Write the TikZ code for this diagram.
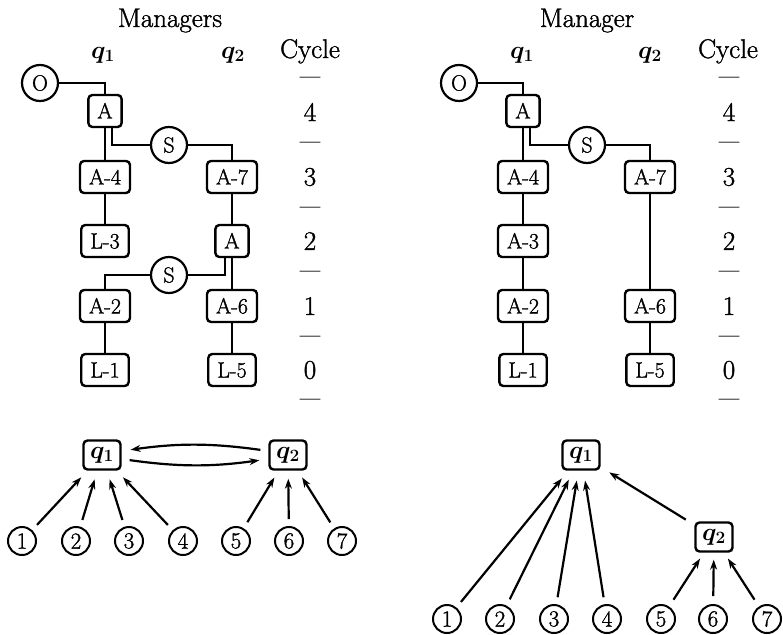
\documentclass[tikz,border=0pt]{standalone}
\usepackage{fontspec}
\setmainfont{Latin Modern Roman}[FakeBold=1.3]
\usetikzlibrary{arrows.meta}
\begin{document}
\begin{tikzpicture}[x=1pt,y=-1pt,
  every node/.style={inner sep=0pt},
  bigtxt/.style={font=\fontsize{27}{31}\selectfont},
  qtxt/.style={font=\fontsize{26}{30}\selectfont\boldmath},
  dashtxt/.style={font=\fontsize{22}{26}\selectfont},
  tbox/.style={draw, line width=2.4pt, rounded corners=4pt, font=\fontsize{22}{26}\selectfont,
    minimum height=32pt, inner xsep=9pt, text height=15pt, text depth=0pt},
  rcirc/.style={draw, circle, line width=2.2pt, minimum size=36pt, font=\fontsize{22}{26}\selectfont},
  qbox/.style={draw, line width=2.4pt, rounded corners=4pt, font=\fontsize{26}{30}\selectfont\boldmath,
    minimum height=29pt, minimum width=37pt},
  ncirc/.style={draw, circle, line width=2pt, minimum size=28pt, font=\fontsize{23}{26}\selectfont},
  conn/.style={line width=2.2pt},
  arr/.style={line width=2.2pt, -{Stealth[length=10pt,width=7pt]}}
]
\useasboundingbox (0,0) rectangle (783,634);

%================ LEFT PANEL =================
\node[bigtxt, anchor=base] (tL) at (170,27) {Managers};
\node[qtxt, anchor=base] (q1L) at (103,58) {$q_1$};
\node[qtxt, anchor=base] (q2L) at (233,58) {$q_2$};
\node[bigtxt, anchor=base] (cyL) at (310,58) {Cycle};

\node[rcirc] (OL) at (40,83) {O};
\node[tbox] (AL) at (105,111) {A};
\node[rcirc] (SL) at (169,145) {S};
\node[tbox] (A4L) at (105,177) {A-4};
\node[tbox] (A7L) at (232,177) {A-7};
\node[tbox] (L3L) at (105,241) {L-3};
\node[tbox] (ArL) at (232,241) {A};
\node[rcirc] (S2L) at (169,275) {S};
\node[tbox] (A2L) at (105,306) {A-2};
\node[tbox] (A6L) at (232,306) {A-6};
\node[tbox] (L1L) at (105,370) {L-1};
\node[tbox] (L5L) at (232,370) {L-5};

\draw[conn] (OL) -| (AL);
\draw[conn] (AL) -- (A4L);
\draw[conn] ([xshift=7pt]AL.south) |- (SL);
\draw[conn] (SL) -| (A7L);
\draw[conn] (A4L) -- (L3L);
\draw[conn] (A7L) -- (ArL);
\draw[conn] ([xshift=-7pt]ArL.south) |- (S2L);
\draw[conn] (ArL) -- (A6L);
\draw[conn] (S2L) -| (A2L);
\draw[conn] (A2L) -- (L1L);
\draw[conn] (A6L) -- (L5L);

\node[dashtxt] (dL0) at (310,80) {---};
\node[bigtxt] (cL4) at (310,112) {4};
\node[dashtxt] (dL1) at (310,145) {---};
\node[bigtxt] (cL3) at (310,177) {3};
\node[dashtxt] (dL2) at (310,210) {---};
\node[bigtxt] (cL2) at (310,241) {2};
\node[dashtxt] (dL3) at (310,274) {---};
\node[bigtxt] (cL1) at (310,306) {1};
\node[dashtxt] (dL4) at (310,339) {---};
\node[bigtxt] (cL0) at (310,370) {0};
\node[dashtxt] (dL5) at (310,402) {---};

%================ RIGHT PANEL =================
\node[bigtxt, anchor=base] (tR) at (587,27) {Manager};
\node[qtxt, anchor=base] (q1R) at (522,58) {$q_1$};
\node[qtxt, anchor=base] (q2R) at (650,58) {$q_2$};
\node[bigtxt, anchor=base] (cyR) at (728,58) {Cycle};

\node[rcirc] (OR) at (459,83) {O};
\node[tbox] (AR) at (523,111) {A};
\node[rcirc] (SR) at (587,145) {S};
\node[tbox] (A4R) at (523,177) {A-4};
\node[tbox] (A7R) at (650,177) {A-7};
\node[tbox] (A3R) at (523,241) {A-3};
\node[tbox] (A2R) at (523,306) {A-2};
\node[tbox] (A6R) at (650,306) {A-6};
\node[tbox] (L1R) at (523,370) {L-1};
\node[tbox] (L5R) at (650,370) {L-5};

\draw[conn] (OR) -| (AR);
\draw[conn] (AR) -- (A4R);
\draw[conn] ([xshift=7pt]AR.south) |- (SR);
\draw[conn] (SR) -| (A7R);
\draw[conn] (A4R) -- (A3R);
\draw[conn] (A3R) -- (A2R);
\draw[conn] (A2R) -- (L1R);
\draw[conn] (A7R) -- (A6R);
\draw[conn] (A6R) -- (L5R);

\node[dashtxt] (dR0) at (729,80) {---};
\node[bigtxt] (cR4) at (729,112) {4};
\node[dashtxt] (dR1) at (729,145) {---};
\node[bigtxt] (cR3) at (729,177) {3};
\node[dashtxt] (dR2) at (729,210) {---};
\node[bigtxt] (cR2) at (729,241) {2};
\node[dashtxt] (dR3) at (729,274) {---};
\node[bigtxt] (cR1) at (729,306) {1};
\node[dashtxt] (dR4) at (729,339) {---};
\node[bigtxt] (cR0) at (729,370) {0};
\node[dashtxt] (dR5) at (729,402) {---};

%================ BOTTOM LEFT =================
\node[qbox] (bq1L) at (102,455) {$q_1$};
\node[qbox] (bq2L) at (288,455) {$q_2$};
\draw[arr, shorten <=8pt, shorten >=9pt] ([yshift=4pt]bq2L.west) to[bend right=8] ([yshift=4pt]bq1L.east);
\draw[arr, shorten <=8pt, shorten >=9pt] ([yshift=-4pt]bq1L.east) to[bend right=8] ([yshift=-4pt]bq2L.west);

\foreach \i/\x in {1/22,2/76,3/129,4/183,5/236,6/289,7/342}
  \node[ncirc] (nL\i) at (\x,541) {\i};
\foreach \i in {1,2,3,4}
  \draw[arr, shorten <=7pt, shorten >=9pt] (nL\i) -- (bq1L);
\foreach \i in {5,6,7}
  \draw[arr, shorten <=7pt, shorten >=8pt] (nL\i) -- (bq2L);

%================ BOTTOM RIGHT =================
\node[qbox] (bq1R) at (581,455) {$q_1$};
\node[qbox] (bq2R) at (714,537) {$q_2$};
\draw[arr, shorten <=10pt, shorten >=10pt] (bq2R) -- (bq1R);
\foreach \i/\x in {1/447,2/500,3/554,4/607,5/661,6/713,7/767}
  \node[ncirc] (nR\i) at (\x,619) {\i};
\foreach \i in {1,2,3,4}
  \draw[arr, shorten <=7pt, shorten >=10pt] (nR\i) -- (bq1R);
\foreach \i in {5,6,7}
  \draw[arr, shorten <=8pt, shorten >=7pt] (nR\i) -- (bq2R);
\end{tikzpicture}
\end{document}
